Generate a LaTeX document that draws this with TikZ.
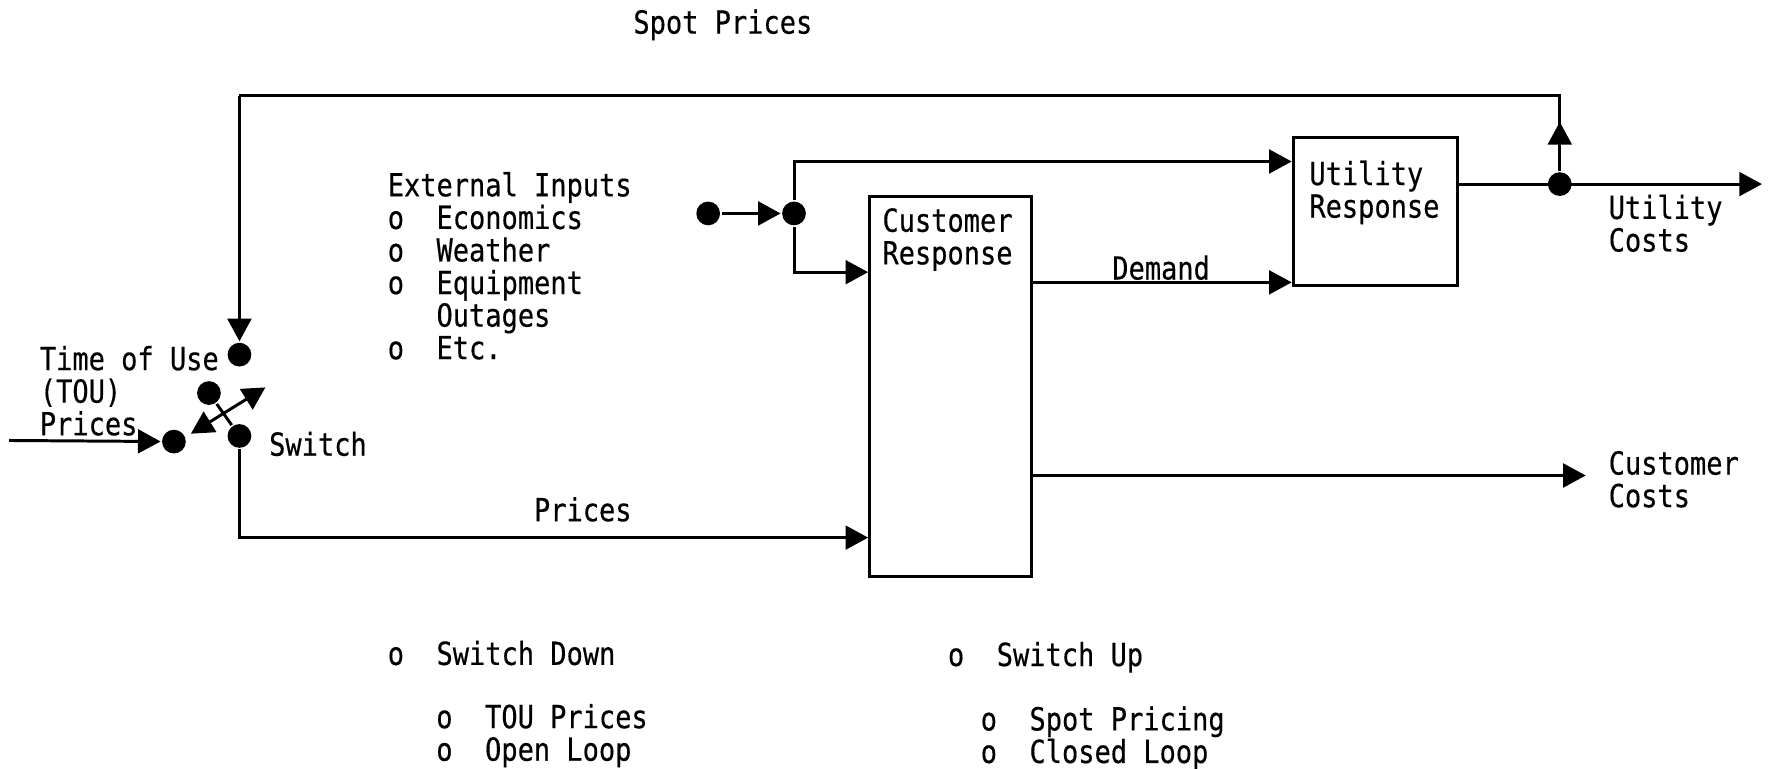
\documentclass[tikz,border=0pt]{standalone}
\usepackage{fontspec}
\newfontfamily\tw{DejaVu Sans Mono}[FakeStretch=0.85,FakeBold=0.4]
\usetikzlibrary{arrows.meta,calc}
\begin{document}
\begin{tikzpicture}[x=0.01cm,y=-0.01cm, line width=0.75pt,
  arr/.style={-{Triangle[length=0.2cm,width=0.21cm]}},
  darr/.style={{Triangle[length=0.2cm,width=0.21cm]}-{Triangle[length=0.2cm,width=0.21cm]}},
  dot/.style={circle,fill,inner sep=0,minimum size=0.21cm},
  lbl/.style={font=\tw\fontsize{8pt}{8.2pt}\selectfont, inner sep=0, align=left},
  box/.style={draw, rectangle, inner sep=0}]
\useasboundingbox (0,0) rectangle (1568,680);

% boxes
\node[box, minimum width=1.43cm, minimum height=3.36cm] (cr) at (841.5,342) {};
\node[box, minimum width=1.45cm, minimum height=1.31cm] (ur) at (1217.5,187.5) {};

% labels
\node[lbl, anchor=north west] (crt) at (780,183) {Customer\\Response};
\node[lbl, anchor=north west] (urt) at (1158,141) {Utility\\Response};
\node[lbl, anchor=north west] (ext) at (342,151) {External Inputs\\o\ \ Economics\\o\ \ Weather\\o\ \ Equipment\\\ \ \ Outages\\o\ \ Etc.};
\node[lbl, anchor=north west] (tou) at (34,305) {Time of Use\\(TOU)\\Prices};
\node[lbl, anchor=north west] (uct) at (1423,171) {Utility\\Costs};
\node[lbl, anchor=north west] (cct) at (1423,398) {Customer\\Costs};
\node[lbl] (spot) at (640,22) {Spot Prices};
\node[lbl, anchor=west] (swt) at (237,393) {Switch};
\node[lbl] (prt) at (516,451) {Prices};
\node[lbl] (dmt) at (1028,237) {Demand};
\node[lbl, anchor=north west] (sd) at (342,566) {o\ \ Switch Down};
\node[lbl, anchor=north west] (sdl) at (385,622) {o\ \ TOU Prices\\o\ \ Open Loop};
\node[lbl, anchor=north west] (su) at (838,567) {o\ \ Switch Up};
\node[lbl, anchor=north west] (sul) at (867,624) {o\ \ Spot Pricing\\o\ \ Closed Loop};

% dots
\node[dot] (tc) at (212,314) {};
\node[dot] (s1) at (185,348) {};
\node[dot] (s2) at (212,386) {};
\node[dot] (tin) at (154,391) {};
\node[dot] (ei) at (627,189) {};
\node[dot] (j) at (703,189) {};
\node[dot] (uc) at (1381,163) {};

% helper coordinates
\coordinate (tl) at (212,85);
\coordinate (tr) at (1381,85);
\coordinate (tinsrc) at (8,390);
\coordinate (a1) at (169,384);
\coordinate (a2) at (235,343);
\coordinate (ucend) at (1560,163);
\coordinate (ccend) at (1404,421);
\coordinate (upmark) at (1381,108);
\coordinate (prow) at (212,476);
\coordinate (jup) at (703,143);
\coordinate (jdn) at (703,241);
\coordinate (dmrow) at (1000,250);

% connectors
\draw[arr] (tinsrc) -- (tin);
\draw (uc) -- (tr) -- (tl);
\draw[arr] (tl) -- (tc);
\draw[arr] (uc) -- (upmark);
\draw (s1) -- (s2);
\draw[darr] (a1) -- (a2);
\draw[arr] (s2) -- (prow) -- (cr.west |- prow);
\draw[arr] (ei) -- (j);
\draw[arr] (j) -- (jup) -- (ur.west |- jup);
\draw[arr] (j) -- (jdn) -- (cr.west |- jdn);
\draw[arr] (cr.east |- dmrow) -- (ur.west |- dmrow);
\draw[arr] (ur.east |- uc) -- (ucend);
\draw[arr] (cr.east |- ccend) -- (ccend);
\end{tikzpicture}
\end{document}
